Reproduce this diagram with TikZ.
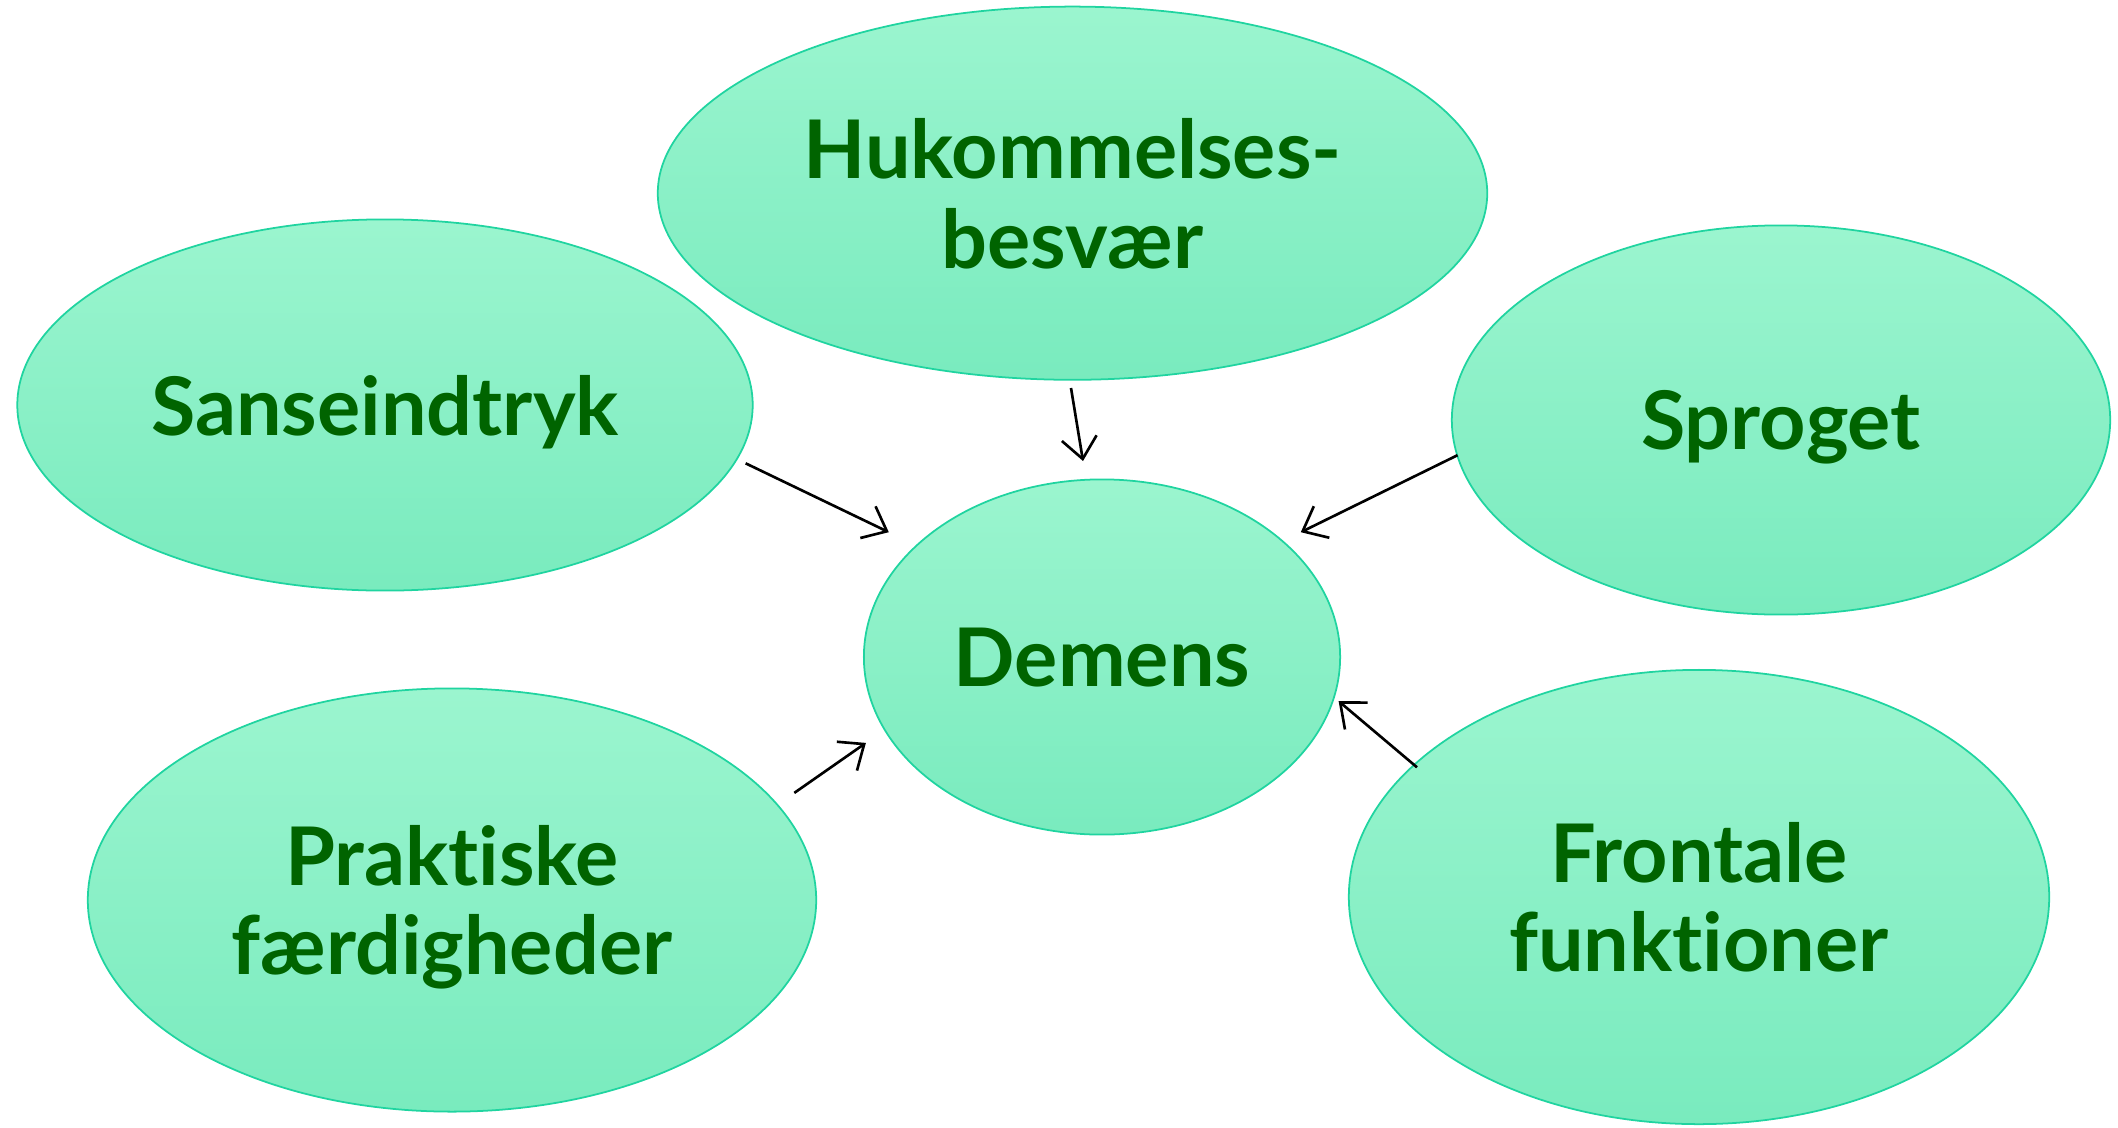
\documentclass[tikz,border=0pt]{standalone}
\usepackage{fontspec}
\setmainfont{Lato}[Ligatures=NoCommon]
\usetikzlibrary{shapes.geometric,arrows.meta}
\definecolor{topc}{RGB}{155,245,207}
\definecolor{botc}{RGB}{121,235,190}
\definecolor{edgec}{RGB}{32,212,160}
\definecolor{txtc}{RGB}{0,100,0}
\tikzset{
  bubble/.style={ellipse, draw=edgec, line width=0.5pt, top color=topc, bottom color=botc,
    inner sep=0pt, align=center, text=txtc, text depth=0pt,
    font=\fontsize{23}{25.5}\selectfont\bfseries},
  arr/.style={draw=black, line width=0.75pt, -{Straight Barb[length=6pt,width=10pt,line width=0.75pt]}}
}
\begin{document}
\begin{tikzpicture}[x=0.01cm,y=-0.01cm]
\useasboundingbox (0,0) rectangle (2118,1127);
\node[bubble, minimum width=8.29cm, minimum height=3.73cm] (huk) at (1072.5,193.2) {Hukommelses-\\besvær};
\node[bubble, minimum width=7.35cm, minimum height=3.71cm] (sans) at (385,405) {Sanseindtryk};
\node[bubble, minimum width=6.58cm, minimum height=3.89cm] (sprog) at (1781,420) {Sproget};
\node[bubble, minimum width=4.76cm, minimum height=3.55cm] (dem) at (1102,657) {Demens};
\node[bubble, minimum width=7.28cm, minimum height=4.23cm] (prak) at (452,900) {Praktiske\\færdigheder};
\node[bubble, minimum width=7.00cm, minimum height=4.54cm] (front) at (1699,897) {Frontale\\funktioner};
\coordinate (a1s) at (1071,388);  \coordinate (a1e) at (1083,461);
\coordinate (a2s) at (745.6,463.3); \coordinate (a2e) at (888.8,532.2);
\coordinate (a3s) at (1457.5,455.2); \coordinate (a3e) at (1300.8,532.2);
\coordinate (a4s) at (794.3,792.9); \coordinate (a4e) at (865.9,742.9);
\coordinate (a5s) at (1417,767.3); \coordinate (a5e) at (1338.6,701.1);
\draw[arr] (a1s) -- (a1e);
\draw[arr] (a2s) -- (a2e);
\draw[arr] (a3s) -- (a3e);
\draw[arr] (a4s) -- (a4e);
\draw[arr] (a5s) -- (a5e);
\end{tikzpicture}
\end{document}
